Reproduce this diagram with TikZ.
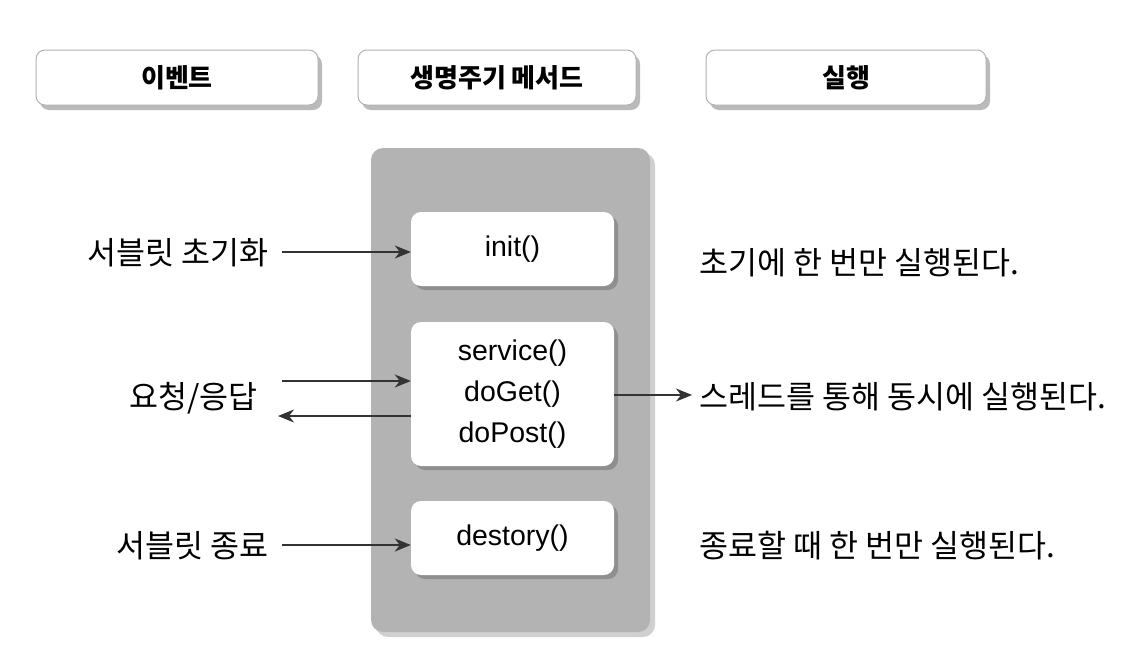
\documentclass[tikz,border=0pt]{standalone}
\usepackage{fontspec}
\setmainfont{Noto Sans CJK KR}
\newfontfamily\latinf{Liberation Sans}
\usetikzlibrary{shadows,arrows.meta}
\definecolor{panelgray}{HTML}{B3B3B3}
\definecolor{linecol}{HTML}{333333}
\tikzset{
  hdr/.style={draw=gray!60, line width=1pt, fill=white, rounded corners=9pt, minimum width=282pt, minimum height=55pt,
    drop shadow={shadow xshift=4pt, shadow yshift=-5pt, opacity=0.45, fill=black!60},
    font=\fontsize{26}{30}\selectfont\bfseries, inner sep=0pt},
  meth/.style={fill=white, rounded corners=10pt, minimum width=203pt, inner sep=0pt,
    drop shadow={shadow xshift=4pt, shadow yshift=-4pt, opacity=0.35, fill=black!70},
    font=\latinf\fontsize{28.5}{41}\selectfont, align=center},
  lbl/.style={font=\fontsize{31.5}{36}\selectfont, inner sep=0pt},
  arr/.style={draw=linecol, line width=1.8pt, -{Stealth[length=16pt,width=13pt,inset=5pt]}},
}
\begin{document}
\begin{tikzpicture}[x=1pt,y=-1pt]
\useasboundingbox (0,0) rectangle (1144,672);
\fill[white] (0,0) rectangle (1144,672);
% headers
\node[hdr] (h1) at (177,77.5) {이벤트};
\node[hdr, minimum width=278pt] (h2) at (497,77.5) {생명주기 메서드};
\node[hdr, minimum width=280pt] (h3) at (846,77.5) {실행};
% panel
\fill[panelgray, rounded corners=12pt, drop shadow={shadow xshift=5pt, shadow yshift=-5pt, opacity=0.3, fill=black!60}] (371,148) rectangle (650,632);
% method boxes
\node[meth, minimum height=74pt] (init) at (512.5,249) {init()};
\node[meth, minimum height=144pt] (svc) at (512.5,394) {service()\\doGet()\\doPost()};
\node[meth, minimum height=74pt] (dest) at (512.5,538) {destory()};
% left labels
\node[lbl, anchor=east] (l1) at (269,253) {서블릿 초기화};
\node[lbl, anchor=east] (l2) at (258,398) {요청/응답};
\node[lbl, anchor=east] (l3) at (269,546) {서블릿 종료};
% right labels
\node[lbl, anchor=west] (r1) at (699,263) {초기에 한 번만 실행된다.};
\node[lbl, anchor=west] (r2) at (699,397) {스레드를 통해 동시에 실행된다.};
\node[lbl, anchor=west] (r3) at (699,546) {종료할 때 한 번만 실행된다.};
% arrow ends
\coordinate (s1) at (282,252);
\coordinate (s2) at (282,381);
\coordinate (s3) at (278,416);
\coordinate (s4) at (282,545);
\coordinate (e5) at (692,395);
% arrows
\draw[arr] (s1) -- (init.west |- s1);
\draw[arr] (s2) -- (svc.west |- s2);
\draw[arr] (svc.west |- s3) -- (s3);
\draw[arr] (s4) -- (dest.west |- s4);
\draw[arr] (svc.east |- e5) -- (e5);
\end{tikzpicture}
\end{document}
